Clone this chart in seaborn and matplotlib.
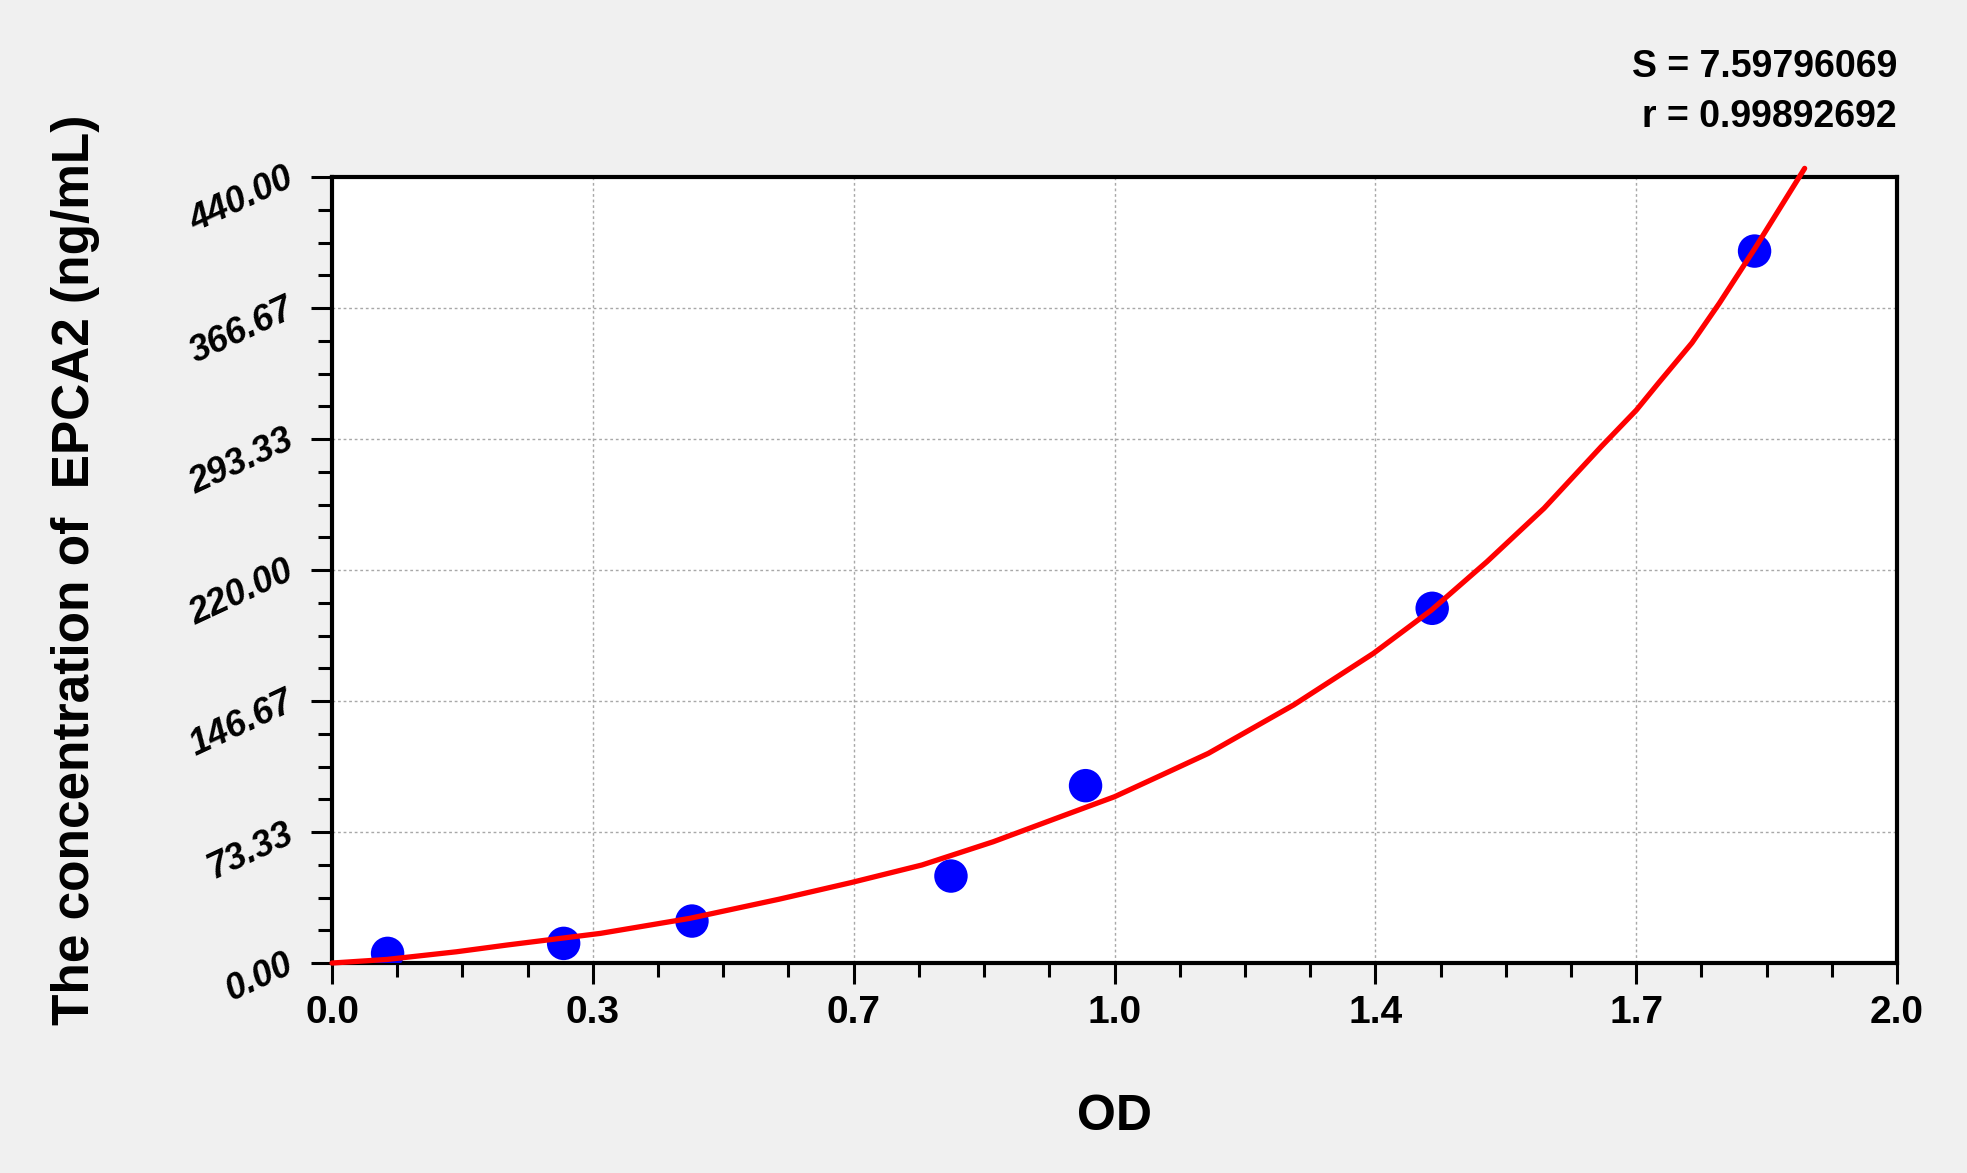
import seaborn as sns
import matplotlib.pyplot as plt
import numpy as np
import pandas as pd
from matplotlib.ticker import AutoMinorLocator, FixedLocator, FixedFormatter

# standard points (OD, concentration)
od_points = [0.071, 0.296, 0.460, 0.791, 0.963, 1.406, 1.818]
conc_points = [5.4, 11.0, 23.5, 48.7, 99.3, 198.6, 398.6]

# fitted curve
curve_od = [0.0, 0.07, 0.159, 0.224, 0.343, 0.457, 0.571, 0.663, 0.754, 0.845,
            0.937, 1.0, 1.059, 1.120, 1.229, 1.331, 1.405, 1.476, 1.549, 1.622,
            1.667, 1.695, 1.738, 1.773, 1.818, 1.882]
curve_conc = [0.0, 2.0, 6.3, 10.1, 16.6, 25.0, 35.7, 45.0, 54.9, 67.9,
              82.9, 93.1, 105.0, 117.4, 144.5, 173.4, 197.6, 224.7, 254.6, 289.1,
              309.6, 324.6, 347.2, 369.4, 399.8, 444.9]

x_labels = ['0.0', '0.3', '0.7', '1.0', '1.4', '1.7', '2.0']
y_labels = ['0.00', '73.33', '146.67', '220.00', '293.33', '366.67', '440.00']

stat_s = 'S = 7.59796069'
stat_r = 'r = 0.99892692'

sns.set_style('white')
plt.rcParams['font.family'] = ['Liberation Sans', 'DejaVu Sans']
plt.rcParams['text.color'] = 'black'
plt.rcParams['axes.labelcolor'] = 'black'
plt.rcParams['xtick.color'] = 'black'
plt.rcParams['ytick.color'] = 'black'

bg = '#f0f0f0'
fig = plt.figure(figsize=(19.67, 11.73), dpi=100, facecolor=bg)
ax = fig.add_axes([0.1688, 0.179, 0.7956, 0.670])
ax.set_facecolor('white')

pts = pd.DataFrame({'OD': od_points, 'conc': conc_points})
fit = pd.DataFrame({'OD': curve_od, 'conc': curve_conc})

sns.scatterplot(data=pts, x='OD', y='conc', ax=ax, s=580, color='#0000ff',
                edgecolor='none', zorder=3)
sns.lineplot(data=fit, x='OD', y='conc', ax=ax, sort=False, estimator=None,
             color='#ff0000', linewidth=3.8, zorder=4, clip_on=False)

ax.set_xlim(0, 2.0)
ax.set_ylim(0, 440)

ax.xaxis.set_major_locator(FixedLocator(np.linspace(0, 2.0, len(x_labels))))
ax.xaxis.set_major_formatter(FixedFormatter(x_labels))
ax.yaxis.set_major_locator(FixedLocator(np.linspace(0, 440, len(y_labels))))
ax.yaxis.set_major_formatter(FixedFormatter(y_labels))
ax.xaxis.set_minor_locator(AutoMinorLocator(4))
ax.yaxis.set_minor_locator(AutoMinorLocator(4))

ax.grid(True, which='major', color='#a8a8a8', linestyle=(0, (2, 2)), linewidth=1.0)
ax.set_axisbelow(True)

for sp in ax.spines.values():
    sp.set_visible(True)
    sp.set_color('black')
    sp.set_linewidth(3)

ax.tick_params(which='major', direction='out', length=15, width=2.2, color='black',
               bottom=True, left=True)
ax.tick_params(which='minor', direction='out', length=10, width=2.2, color='black',
               bottom=True, left=True)
ax.tick_params(axis='x', which='major', pad=8)
ax.tick_params(axis='y', which='major', pad=14)

for lbl in ax.get_xticklabels():
    lbl.set_fontsize(28)
    lbl.set_fontweight('bold')
for lbl in ax.get_yticklabels():
    lbl.set_fontsize(26)
    lbl.set_fontweight('bold')
    lbl.set_fontstyle('italic')
    lbl.set_rotation(25)
    lbl.set_rotation_mode('anchor')
    lbl.set_ha('right')
    lbl.set_va('center')

ax.set_xlabel('OD', fontsize=36, fontweight='bold')
ax.set_ylabel('The concentration of  EPCA2 (ng/mL)', fontsize=37, fontweight='bold')
ax.xaxis.set_label_coords(0.5, -0.167)
ax.yaxis.set_label_coords(-0.148, 0.5)

fig.text(0.9644, 0.943, stat_s, ha='right', va='center', fontsize=27, fontweight='bold')
fig.text(0.9644, 0.900, stat_r, ha='right', va='center', fontsize=27, fontweight='bold')

fig.savefig('out.png', dpi=100, facecolor=bg)
